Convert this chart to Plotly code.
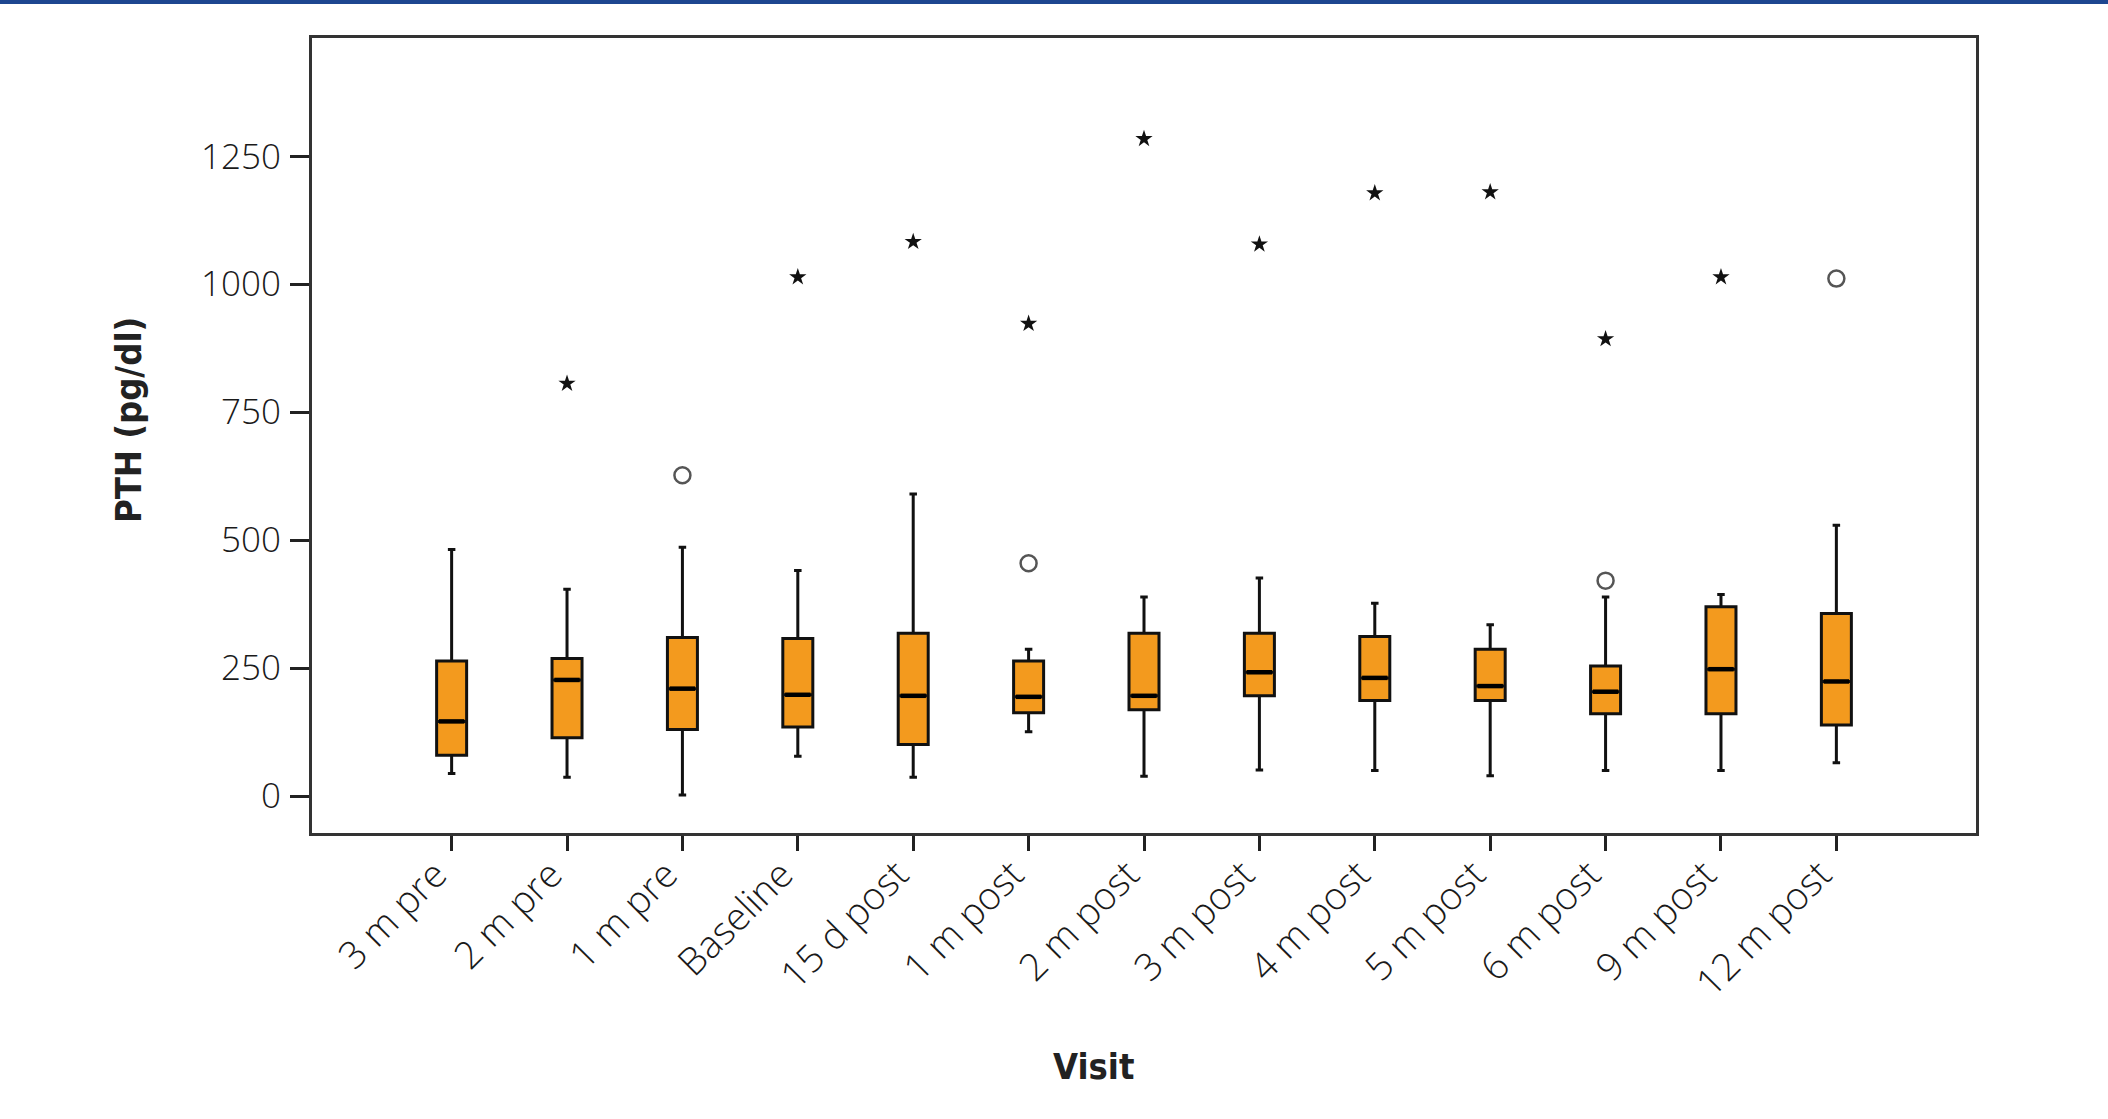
import plotly.graph_objects as go

categories = ["3 m pre", "2 m pre", "1 m pre", "Baseline", "15 d post", "1 m post",
              "2 m post", "3 m post", "4 m post", "5 m post", "6 m post", "9 m post", "12 m post"]
lower_whisker = [44, 37, 2, 78, 37, 126, 39, 51, 50, 40, 50, 50, 65]
q1_values = [80, 114, 130, 135, 101, 163, 169, 196, 187, 187, 161, 161, 139]
median_values = [146, 227, 210, 198, 196, 194, 196, 242, 231, 215, 204, 248, 224]
q3_values = [264, 269, 310, 308, 318, 264, 318, 318, 312, 287, 254, 370, 357]
upper_whisker = [482, 404, 486, 441, 590, 287, 389, 426, 377, 335, 389, 394, 529]

extreme_cats = ["2 m pre", "Baseline", "15 d post", "1 m post", "2 m post", "3 m post",
                "4 m post", "5 m post", "6 m post", "9 m post"]
extreme_values = [806, 1014, 1083, 923, 1284, 1078, 1178, 1180, 893, 1014]
outlier_cats = ["1 m pre", "1 m post", "6 m post", "12 m post"]
outlier_values = [627, 455, 421, 1011]

y_ticks = [0, 250, 500, 750, 1000, 1250]

pos = list(range(len(categories)))
idx = {c: i for i, c in enumerate(categories)}
box_w = 0.26

fig = go.Figure()
fig.add_trace(go.Box(
    x=pos, q1=q1_values, median=median_values, q3=q3_values,
    lowerfence=lower_whisker, upperfence=upper_whisker,
    boxpoints=False, width=box_w, whiskerwidth=0.25,
    fillcolor="#F39A1E", line=dict(color="#111111", width=3),
    showlegend=False, hoverinfo="skip"))

mx, my = [], []
for i, m in zip(pos, median_values):
    mx += [i - box_w / 2 + 0.02, i + box_w / 2 - 0.02, None]
    my += [m, m, None]
fig.add_trace(go.Scatter(x=mx, y=my, mode="lines", line=dict(color="black", width=4.5),
                         showlegend=False, hoverinfo="skip"))

fig.add_trace(go.Scatter(x=[idx[c] for c in extreme_cats], y=extreme_values, mode="markers",
                         marker=dict(symbol="star", size=13, color="#111111", line=dict(width=0)),
                         showlegend=False))
fig.add_trace(go.Scatter(x=[idx[c] for c in outlier_cats], y=outlier_values, mode="markers",
                         marker=dict(symbol="circle-open", size=16, color="#555555",
                                     line=dict(width=2.5, color="#555555")),
                         showlegend=False))

W, H = 2108, 1119
L, R, T, B = 312, 132, 38, 286
ph = H - T - B
pw = W - L - R

fig.update_layout(
    template="none",
    width=W, height=H,
    margin=dict(l=L, r=R, t=T, b=B, pad=0),
    paper_bgcolor="white", plot_bgcolor="white",
    font=dict(family="Open Sans, DejaVu Sans, sans-serif", color="#222222"),
    xaxis=dict(range=[-1.21, 12 + 1.21], tickmode="array", tickvals=pos, ticktext=categories,
               tickangle=-45, ticks="outside", ticklen=15, tickwidth=3, tickcolor="#222222",
               showgrid=False, zeroline=False, showline=True, linecolor="#333333", linewidth=3,
               mirror=True, automargin=False, ticklabelshift=-16, ticklabelstandoff=-14,
               tickfont=dict(size=38, family="Open Sans, sans-serif", color="#1a1a1a", weight=300)),
    yaxis=dict(range=[-72, 1481], tickmode="array", tickvals=y_ticks,
               ticks="outside", ticklen=19, tickwidth=3, tickcolor="#222222",
               showgrid=False, zeroline=False, showline=True, linecolor="#333333", linewidth=3,
               mirror=True, automargin=False, ticklabelstandoff=2,
               tickfont=dict(size=35, family="Open Sans, sans-serif", color="#1a1a1a", weight=300)),
    annotations=[
        dict(text="PTH (pg/dl)", textangle=-90, xref="paper", yref="paper",
             x=(128 - L) / pw, y=(H - B - 420) / ph, xanchor="center", yanchor="middle",
             showarrow=False,
             font=dict(size=36, family="DejaVu Sans Condensed, Liberation Sans Narrow, sans-serif",
                       color="#222222", weight="bold")),
        dict(text="Visit", xref="paper", yref="paper",
             x=(1093 - L) / pw, y=(H - B - 1066) / ph, xanchor="center", yanchor="middle",
             showarrow=False,
             font=dict(size=36, family="DejaVu Sans Condensed, Liberation Sans Narrow, sans-serif",
                       color="#222222", weight="bold")),
    ],
    shapes=[dict(type="rect", xref="paper", yref="paper",
                 x0=-L / pw, x1=(W - L) / pw, y0=(H - B - 4) / ph, y1=(H - B) / ph,
                 fillcolor="#1D4690", line=dict(width=0), layer="above")],
)

fig.write_html("out.html", config={"displayModeBar": False},
               post_script="document.body.style.margin='0px';")
